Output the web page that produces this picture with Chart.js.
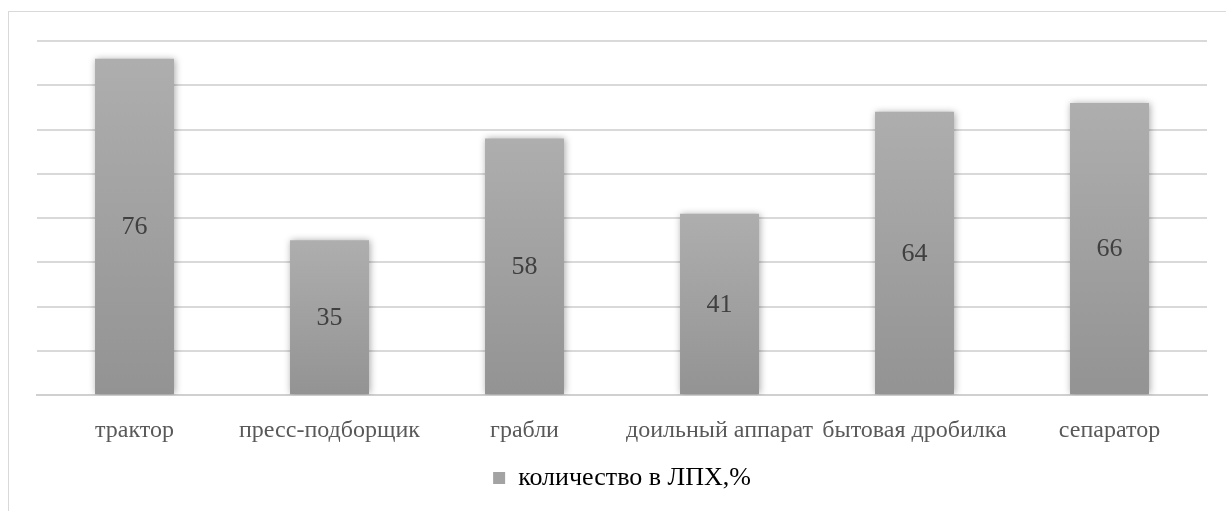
<!DOCTYPE html>
<html>
<head>
<meta charset="utf-8">
<script src="https://cdn.jsdelivr.net/npm/chart.js@4"></script>
<style>
  html, body { margin: 0; padding: 0; background: #fff; }
  #wrap { position: relative; width: 1226px; height: 511px; overflow: hidden; }
  #frame { position: absolute; left: 8px; top: 11px; width: 1240px; height: 520px; border: 1px solid #d9d9d9; box-sizing: border-box; }
  #chart { position: absolute; left: 0; top: 0; }
</style>
</head>
<body>
<div id="wrap">
  <div id="frame"></div>
  <canvas id="chart" width="1226" height="511"></canvas>
</div>
<script>
const categories = ['трактор', 'пресс-подборщик', 'грабли', 'доильный аппарат', 'бытовая дробилка', 'сепаратор'];
const values = [76, 35, 58, 41, 64, 66];
const seriesName = 'количество в ЛПХ,%';
const yMax = 80;
const yStep = 10;

const SERIF = "'Times New Roman', 'Liberation Serif', serif";

// вертикальный градиент отдельно для каждого столбика
function barFill(context) {
  const chart = context.chart;
  const y = chart.scales.y;
  if (!chart.chartArea || !y) return '#a0a0a0';
  const v = context.raw;
  const top = y.getPixelForValue(v);
  const base = y.getPixelForValue(0);
  if (!isFinite(top) || !isFinite(base) || top === base) return '#a0a0a0';
  const g = chart.ctx.createLinearGradient(0, top, 0, base);
  g.addColorStop(0, '#aeaeae');
  g.addColorStop(1, '#939393');
  return g;
}

// мягкая тень под столбиками
const barShadow = {
  id: 'barShadow',
  beforeDatasetsDraw(chart) {
    const ctx = chart.ctx;
    ctx.save();
    ctx.shadowColor = 'rgba(0,0,0,0.35)';
    ctx.shadowBlur = 7;
    ctx.shadowOffsetX = 1;
    ctx.shadowOffsetY = 0;
  },
  afterDatasetsDraw(chart) {
    chart.ctx.restore();
  }
};

// подписи значений по центру столбиков
const valueLabels = {
  id: 'valueLabels',
  afterDatasetsDraw(chart) {
    const ctx = chart.ctx;
    const meta = chart.getDatasetMeta(0);
    ctx.save();
    ctx.font = '26px ' + SERIF;
    ctx.fillStyle = '#404040';
    ctx.textAlign = 'center';
    ctx.textBaseline = 'middle';
    meta.data.forEach((bar, i) => {
      const p = bar.getProps(['x', 'y', 'base'], true);
      ctx.fillText(String(values[i]), p.x, (p.y + p.base) / 2 + 1);
    });
    ctx.restore();
  }
};

new Chart(document.getElementById('chart'), {
  type: 'bar',
  data: {
    labels: categories,
    datasets: [{
      label: seriesName,
      data: values,
      backgroundColor: barFill,
      borderWidth: 0,
      barPercentage: 0.405,
      categoryPercentage: 1
    }]
  },
  options: {
    responsive: false,
    animation: false,
    devicePixelRatio: 1,
    layout: { padding: { left: 37, right: 19, top: 41, bottom: 10 } },
    plugins: {
      tooltip: { enabled: false },
      legend: {
        position: 'bottom',
        labels: {
          font: { family: SERIF, size: 26 },
          color: '#595959',
          boxWidth: 12,
          boxHeight: 12,
          padding: 7,
          generateLabels() {
            return [{ text: seriesName, fillStyle: '#a3a3a3', strokeStyle: '#a3a3a3', lineWidth: 0, datasetIndex: 0 }];
          }
        }
      }
    },
    scales: {
      x: {
        grid: { display: false },
        border: { color: '#d0d0d0', width: 2 },
        ticks: {
          font: { family: SERIF, size: 24 },
          color: '#595959',
          padding: 13,
          maxRotation: 0,
          autoSkip: false
        }
      },
      y: {
        min: 0,
        max: yMax,
        ticks: { stepSize: yStep, display: false },
        grid: { color: '#d9d9d9', lineWidth: 2, drawTicks: false },
        border: { display: false }
      }
    }
  },
  plugins: [barShadow, valueLabels]
});
</script>
</body>
</html>
